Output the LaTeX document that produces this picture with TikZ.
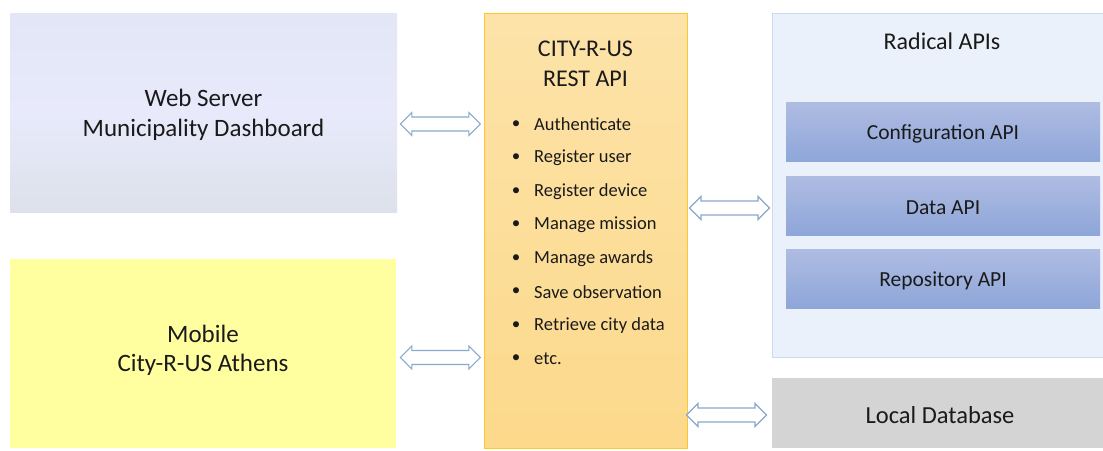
\documentclass[tikz,border=0pt]{standalone}
\usepackage{fontspec}
\setmainfont{Carlito}
\usetikzlibrary{calc}
\definecolor{webtop}{HTML}{E3E6F6}
\definecolor{webmid}{HTML}{E8EAFB}
\definecolor{webbot}{HTML}{DDE1EA}
\definecolor{mobfill}{HTML}{FFFF9F}
\definecolor{apitop}{HTML}{FDE3A9}
\definecolor{apibot}{HTML}{FCD98B}
\definecolor{apiedge}{HTML}{FFC72C}
\definecolor{radfill}{HTML}{EAF1FA}
\definecolor{radedge}{HTML}{C9DCF2}
\definecolor{subtop}{HTML}{AFBCE2}
\definecolor{subbot}{HTML}{8EA6D9}
\definecolor{dbfill}{HTML}{D5D4D5}
\definecolor{arredge}{HTML}{8AA8CB}
\definecolor{txt}{HTML}{1A1A1A}
\tikzset{
  box/.style={rectangle, inner sep=0pt, align=center, text=txt},
  subbox/.style={box, top color=subtop, bottom color=subbot, minimum width=314, minimum height=59, font=\fontsize{21.5}{25}\selectfont},
  lbl/.style={inner sep=0pt, align=center, text=txt},
  arrstyle/.style={draw=arredge, fill=white, line width=1.1pt, line join=miter},
  pics/dblarr/.style={code={
    \draw[arrstyle] (-40,0) -- (-28.5,-11.5) -- (-28.5,-7) -- (28.5,-7) -- (28.5,-11.5) -- (40,0)
      -- (28.5,11.5) -- (28.5,7) -- (-28.5,7) -- (-28.5,11.5) -- cycle;
  }},
  item/.style={anchor=west, inner sep=0pt, text=txt, font=\fontsize{18.5}{22}\selectfont},
  bul/.style={inner sep=0pt, text=txt, font=\fontsize{17}{20}\selectfont},
}
\begin{document}
\begin{tikzpicture}[x=1pt,y=-1pt]
\useasboundingbox (0,0) rectangle (1103,450);
% left boxes
\node[box, top color=webtop, bottom color=webbot, middle color=webmid, minimum width=387, minimum height=199] (web) at (203.5,112.5) {};
\node[lbl, font=\fontsize{25}{30}\selectfont] (webtxt) at (203.5,115) {Web Server\\Municipality Dashboard};
\node[box, fill=mobfill, minimum width=386, minimum height=189] (mob) at (203,353.5) {};
\node[lbl, font=\fontsize{25}{29.5}\selectfont] (mobtxt) at (203,350.5) {Mobile\\City-R-US Athens};
% central API box
\node[box, top color=apitop, bottom color=apibot, draw=apiedge, line width=0.8pt, minimum width=203, minimum height=435] (api) at (585.5,230.5) {};
\node[lbl, font=\fontsize{24}{30}\selectfont] (apititle) at (585.5,64) {CITY-R-US\\REST API};
\foreach \t [count=\i] in {Authenticate,Register user,Register device,Manage mission,Manage awards,Save observation,Retrieve city data,etc.}{
  \pgfmathsetmacro\yy{124.5+(\i-1)*33.5}
  \node[bul] (b\i) at (516,\yy) {•};
  \node[item] (t\i) at (534,\yy) {\t};
}
% right side
\node[box, fill=radfill, draw=radedge, line width=0.8pt, minimum width=331, minimum height=344] (rad) at (937.5,185) {};
\node[lbl, font=\fontsize{24}{28}\selectfont] (radtitle) at (942,41) {Radical APIs};
\node[subbox] (conf) at (943,132) {};
\node[lbl, font=\fontsize{21.5}{25}\selectfont] at (943,134) {Configuration API};
\node[subbox] (data) at (943,205.5) {};
\node[lbl, font=\fontsize{21.5}{25}\selectfont] at (943,207.5) {Data API};
\node[subbox] (repo) at (943,278.5) {};
\node[lbl, font=\fontsize{21.5}{25}\selectfont] at (943,280.5) {Repository API};
\node[box, fill=dbfill, minimum width=331, minimum height=70] (db) at (937.5,413) {};
\node[lbl, font=\fontsize{24.5}{28}\selectfont] (dbtxt) at (940,415) {Local Database};
% arrows
\coordinate (m1) at ($(web.east)!0.5!(api.west)$);
\coordinate (m2) at ($(api.east)!0.5!(rad.west)$);
\pic (a1) at (m1 |- 0,124) {dblarr};
\pic (a2) at (m1 |- 0,357.5) {dblarr};
\pic (a3) at (m2 |- 0,208) {dblarr};
\pic (a4) at ($(m2 |- 0,415)+(-3,0)$) {dblarr};
\end{tikzpicture}
\end{document}
